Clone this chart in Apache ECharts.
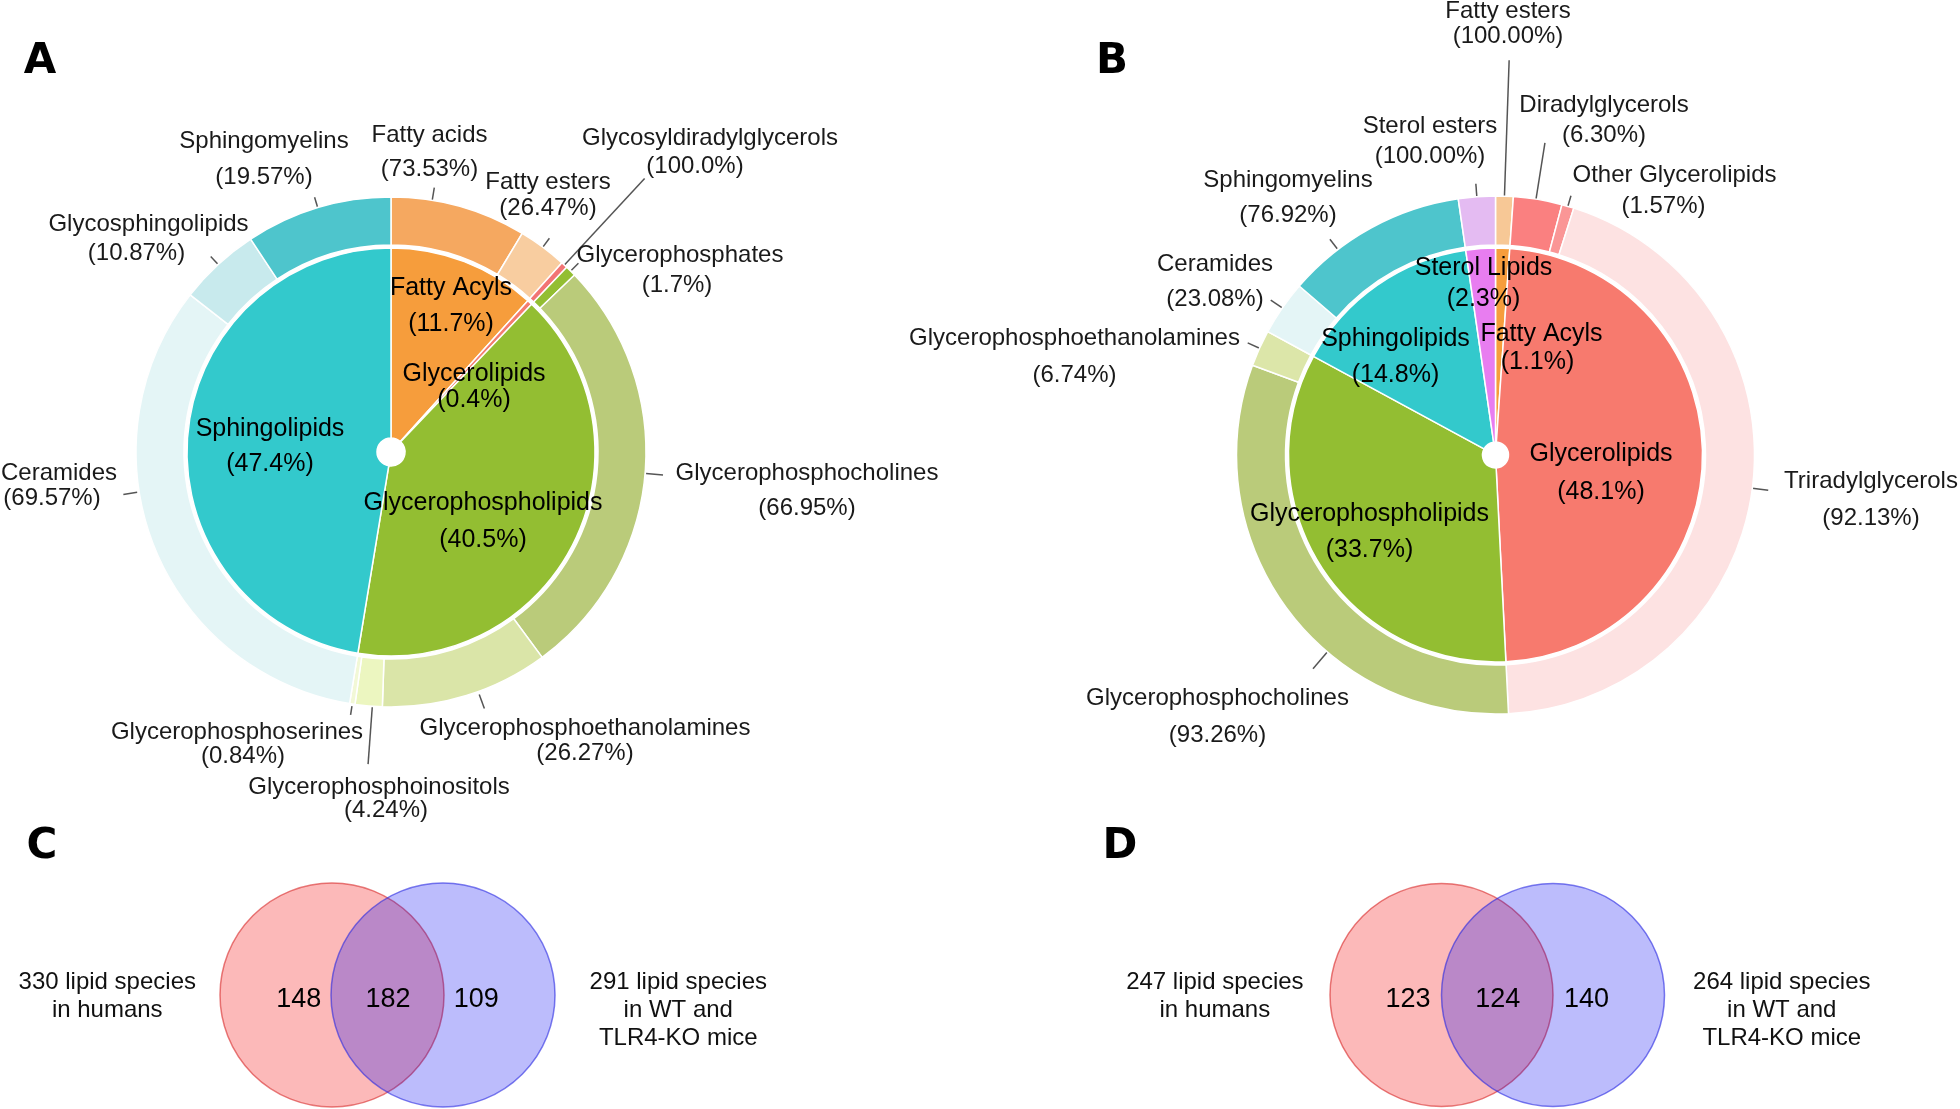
<!DOCTYPE html>
<html>
<head>
<meta charset="utf-8">
<script src="https://cdn.jsdelivr.net/npm/echarts@6/dist/echarts.min.js"></script>
<style>
html,body{margin:0;padding:0;background:#ffffff;}
#chart{width:1960px;height:1109px;}
</style>
</head>
<body>
<div id="chart"></div>
<script>
// ================= DATA =================
// Panel A – inner ring (lipid categories, % of all species)
const A_INNER_NAMES = ['Fatty Acyls', 'Glycerolipids', 'Glycerophospholipids', 'Sphingolipids'];
const A_INNER_PCT   = ['11.7', '0.4', '40.5', '47.4'];
// Panel A – outer ring (classes, % within parent category)
const A_OUTER_NAMES = ['Fatty acids', 'Fatty esters', 'Glycosyldiradylglycerols', 'Glycerophosphates',
  'Glycerophosphocholines', 'Glycerophosphoethanolamines', 'Glycerophosphoinositols', 'Glycerophosphoserines',
  'Ceramides', 'Glycosphingolipids', 'Sphingomyelins'];
const A_OUTER_PCT    = ['73.53', '26.47', '100.0', '1.7', '66.95', '26.27', '4.24', '0.84', '69.57', '10.87', '19.57'];
const A_OUTER_PARENT = [0, 0, 1, 2, 2, 2, 2, 2, 3, 3, 3];

// Panel B
const B_INNER_NAMES = ['Fatty Acyls', 'Glycerolipids', 'Glycerophospholipids', 'Sphingolipids', 'Sterol Lipids'];
const B_INNER_PCT   = ['1.1', '48.1', '33.7', '14.8', '2.3'];
const B_OUTER_NAMES = ['Fatty esters', 'Diradylglycerols', 'Other Glycerolipids', 'Triradylglycerols',
  'Glycerophosphocholines', 'Glycerophosphoethanolamines', 'Ceramides', 'Sphingomyelins', 'Sterol esters'];
const B_OUTER_PCT    = ['100.00', '6.30', '1.57', '92.13', '93.26', '6.74', '23.08', '76.92', '100.00'];
const B_OUTER_PARENT = [0, 1, 1, 1, 2, 2, 3, 3, 4];

// Panels C and D – Venn diagrams
const C_SETS   = ['330 lipid species\nin humans', '291 lipid species\nin WT and\nTLR4-KO mice'];
const C_COUNTS = [148, 182, 109];   // left only, both, right only
const D_SETS   = ['247 lipid species\nin humans', '264 lipid species\nin WT and\nTLR4-KO mice'];
const D_COUNTS = [123, 124, 140];

const PANEL_LETTERS = ['A', 'B', 'C', 'D'];

// ================= STYLE / LAYOUT =================
const FONT = "'Liberation Sans', Arial, sans-serif";
const A_INNER_COLORS = ['#F69D3C', '#F47C6F', '#93BE32', '#33C9CC'];
const A_OUTER_COLORS = ['#F5A860', '#F8CDA0', '#F27474', '#93BE32', '#BACB7A', '#DAE5A8', '#ECF6C0', '#F2F8D6',
  '#E4F5F6', '#C8EAED', '#4EC5CC'];
const B_INNER_COLORS = ['#F69D3C', '#F77A6E', '#93BE32', '#33C9CC', '#E87DF0'];
const B_OUTER_COLORS = ['#F7C896', '#FA8080', '#FA9696', '#FDE2E2', '#BACB7A', '#DCE6A9', '#E4F5F6', '#4EC5CC', '#E4BBF2'];

const A_GEO = { cx: 391, cy: 452, hole: 14, rIn: 204, rOut0: 207, rOut1: 255 };
const B_GEO = { cx: 1495.5, cy: 455, hole: 13, rIn: 207, rOut0: 210, rOut1: 259 };

// label anchor offsets from pie centre: [dx, dy, lineHeight, secondLineShift]
const A_INNER_LAB = [[60, -146, 36, 0], [83, -65, 26, 0], [92, 69.5, 37, 0], [-121, -5, 35, 0]];
const B_INNER_LAB = [[46, -107, 28, -4], [105.5, 18, 37.6, 0], [-126, 77, 36.5, 0], [-100, -98, 36.5, 0], [-12, -171.6, 31, 0]];
// outer labels: leader line angle override (deg), radii r1..r2, text centre offset, line height, shift
const A_OUTER_LAB = [
  { ang: 80.7, r1: 255, r2: 268, tx: 38.5, ty: -300, lh: 34 },
  { r1: 255, r2: 266, tx: 157, ty: -257, lh: 26 },
  { r1: 253, r2: 373, tx: 319, ty: -300, lh: 28, sh: -15 },
  { r1: 256, r2: 266, tx: 289, ty: -182, lh: 30, sh: -3 },
  { r1: 256, r2: 273, tx: 416, ty: 38.5, lh: 35 },
  { ang: -70, r1: 258, r2: 273, tx: 194, ty: 289, lh: 24.5 },
  { ang: -94.2, r1: 256, r2: 313, tx: -12, ty: 346.5, lh: 23, sh: 7 },
  { r1: 257, r2: 266, tx: -154, ty: 292, lh: 24, sh: 6 },
  { ang: -171, r1: 257, r2: 271, tx: -332, ty: 33.5, lh: 25, sh: -7 },
  { r1: 256, r2: 266, tx: -242.5, ty: -213.5, lh: 29, sh: -12 },
  { r1: 256, r2: 266, tx: -127, ty: -293, lh: 36 }
];
const B_OUTER_LAB = [
  { r1: 259, r2: 395, tx: 12.5, ty: -430.8, lh: 25 },
  { ang: 81, r1: 259, r2: 316, tx: 108.5, ty: -335, lh: 30 },
  { r1: 259, r2: 270, tx: 179, ty: -264.2, lh: 31.7, sh: -11 },
  { r1: 259, r2: 275, tx: 375.5, ty: 44.4, lh: 37 },
  { ang: -130.5, r1: 259, r2: 281, tx: -278, ty: 261.5, lh: 37 },
  { r1: 259, r2: 272, tx: -421, ty: -98, lh: 37.5 },
  { r1: 259, r2: 273, tx: -280.5, ty: -173.5, lh: 35 },
  { ang: 127.5, r1: 260, r2: 272, tx: -207.5, ty: -257.25, lh: 35.5 },
  { r1: 259, r2: 272, tx: -65.5, ty: -313.3, lh: 30 }
];

// Venn layout (axis units: circle centres at x=0 and x=1)
const VENN_COUNT_X = [-0.3, 0.505, 1.3];
const VENN_COUNT_Y = 0.45;
const C_SET_LABEL_POS = [[-112, 114], [348, 128]];
const D_SET_LABEL_POS = [[-114.4, 113.5], [341, 127.5]];

// ================= BUILD =================
function outerValues(innerPct, outerPct, parent) {
  return outerPct.map((p, i) => parseFloat(innerPct[parent[i]]) * parseFloat(p) / 100);
}
function midAngles(values) {
  const total = values.reduce((a, b) => a + b, 0);
  let cum = 0;
  return values.map(v => { const m = 90 - 360 * (cum + v / 2) / total; cum += v; return m; });
}
function richFor(labs, size, color, isOuter) {
  const rich = {};
  labs.forEach((l, i) => {
    const lh = isOuter ? l.lh : l[2];
    const sh = (isOuter ? l.sh : l[3]) || 0;
    rich['n' + i] = { fontSize: size, fontFamily: FONT, color: color, lineHeight: lh };
    rich['p' + i] = { fontSize: size, fontFamily: FONT, color: color, lineHeight: lh,
      padding: sh > 0 ? [0, 0, 0, 2 * sh] : [0, -2 * sh, 0, 0] };
  });
  return rich;
}
function innerSeries(geo, names, pct, colors, labs) {
  return {
    type: 'pie', center: [geo.cx, geo.cy], radius: [geo.hole, geo.rIn],
    startAngle: 90, clockwise: true, avoidLabelOverlap: false, silent: true,
    data: names.map((n, i) => ({ name: n, value: parseFloat(pct[i]), itemStyle: { color: colors[i] } })),
    itemStyle: { borderColor: '#ffffff', borderWidth: 1.5 },
    label: {
      show: true, position: 'inside',
      formatter: p => `{n${p.dataIndex}|${p.name}}\n{p${p.dataIndex}|(${pct[p.dataIndex]}%)}`,
      rich: richFor(labs, 25, '#000000', false)
    },
    labelLine: { show: false },
    labelLayout: p => {
      const l = labs[p.dataIndex];
      return { x: geo.cx + l[0], y: geo.cy + l[1], align: 'center', verticalAlign: 'middle' };
    }
  };
}
function outerSeries(geo, innerPct, names, pct, parent, colors, labs) {
  const vals = outerValues(innerPct, pct, parent);
  const mids = midAngles(vals);
  return {
    type: 'pie', center: [geo.cx, geo.cy], radius: [geo.rOut0, geo.rOut1],
    startAngle: 90, clockwise: true, avoidLabelOverlap: false, silent: true,
    data: names.map((n, i) => ({ name: n, value: vals[i], itemStyle: { color: colors[i] } })),
    itemStyle: { borderColor: '#ffffff', borderWidth: 1.5 },
    label: {
      show: true, position: 'outside',
      formatter: p => `{n${p.dataIndex}|${p.name}}\n{p${p.dataIndex}|(${pct[p.dataIndex]}%)}`,
      rich: richFor(labs, 24, '#1a1a1a', true)
    },
    labelLine: { show: true, length: 8, length2: 0, smooth: false, lineStyle: { color: '#555555', width: 1.5 } },
    labelLayout: p => {
      const c = labs[p.dataIndex];
      const a = (c.ang != null ? c.ang : mids[p.dataIndex]) * Math.PI / 180;
      const x1 = geo.cx + c.r1 * Math.cos(a), y1 = geo.cy - c.r1 * Math.sin(a);
      const x2 = geo.cx + c.r2 * Math.cos(a), y2 = geo.cy - c.r2 * Math.sin(a);
      return { x: geo.cx + c.tx, y: geo.cy + c.ty, align: 'center', verticalAlign: 'middle',
        labelLinePoints: [[x1, y1], [x2, y2], [x2, y2]] };
    }
  };
}
function vennSeries(gridIdx, sets, counts, setPos, size) {
  const setLabel = (txt, pos) => ({ show: true, formatter: txt, position: pos, color: '#111111',
    fontFamily: FONT, fontSize: 24, lineHeight: 28, align: 'center', verticalAlign: 'middle',
    textBorderWidth: 0, opacity: 1 });
  const circles = {
    type: 'scatter', xAxisIndex: gridIdx, yAxisIndex: gridIdx, clip: false, silent: true,
    symbol: 'circle', symbolSize: size, z: 2,
    data: [
      { value: [0, 0.5], itemStyle: { color: 'rgba(245,0,0,0.34)', borderColor: 'rgba(215,40,40,0.75)', borderWidth: 1.5 },
        label: setLabel(sets[0], setPos[0]) },
      { value: [1, 0.5], itemStyle: { color: 'rgba(0,0,245,0.33)', borderColor: 'rgba(40,40,225,0.75)', borderWidth: 1.5 },
        label: setLabel(sets[1], setPos[1]) }
    ]
  };
  const nums = {
    type: 'scatter', xAxisIndex: gridIdx, yAxisIndex: gridIdx, clip: false, silent: true,
    symbol: 'circle', symbolSize: 1, z: 3, itemStyle: { color: 'rgba(0,0,0,0)' },
    data: counts.map((c, i) => [VENN_COUNT_X[i], VENN_COUNT_Y, c]),
    label: { show: true, position: 'inside', formatter: p => String(p.value[2]),
      fontFamily: FONT, fontSize: 27, color: '#000000', textBorderWidth: 0, opacity: 1 }
  };
  return [circles, nums];
}

const chart = echarts.init(document.getElementById('chart'), null, { renderer: 'canvas', width: 1960, height: 1109 });
const LETTER_POS = [[40, 62], [1112, 62], [42, 847], [1120, 847]];
chart.setOption({
  backgroundColor: '#ffffff',
  animation: false,
  graphic: PANEL_LETTERS.map((t, i) => ({
    type: 'text', x: LETTER_POS[i][0], y: LETTER_POS[i][1], silent: true,
    style: { text: t, font: 'bold 42px "DejaVu Sans"', fill: '#000000', align: 'center', verticalAlign: 'middle',
      textAlign: 'center', textVerticalAlign: 'middle' }
  })),
  grid: [
    { left: 221, top: 945, width: 333, height: 100 },
    { left: 1330, top: 945, width: 334.5, height: 100 }
  ],
  xAxis: [
    { gridIndex: 0, type: 'value', min: -1, max: 2, show: false },
    { gridIndex: 1, type: 'value', min: -1, max: 2, show: false }
  ],
  yAxis: [
    { gridIndex: 0, type: 'value', min: 0, max: 1, show: false },
    { gridIndex: 1, type: 'value', min: 0, max: 1, show: false }
  ],
  series: [
    innerSeries(A_GEO, A_INNER_NAMES, A_INNER_PCT, A_INNER_COLORS, A_INNER_LAB),
    outerSeries(A_GEO, A_INNER_PCT, A_OUTER_NAMES, A_OUTER_PCT, A_OUTER_PARENT, A_OUTER_COLORS, A_OUTER_LAB),
    innerSeries(B_GEO, B_INNER_NAMES, B_INNER_PCT, B_INNER_COLORS, B_INNER_LAB),
    outerSeries(B_GEO, B_INNER_PCT, B_OUTER_NAMES, B_OUTER_PCT, B_OUTER_PARENT, B_OUTER_COLORS, B_OUTER_LAB),
    ...vennSeries(0, C_SETS, C_COUNTS, C_SET_LABEL_POS, 224),
    ...vennSeries(1, D_SETS, D_COUNTS, D_SET_LABEL_POS, 223)
  ]
});
</script>
</body>
</html>
